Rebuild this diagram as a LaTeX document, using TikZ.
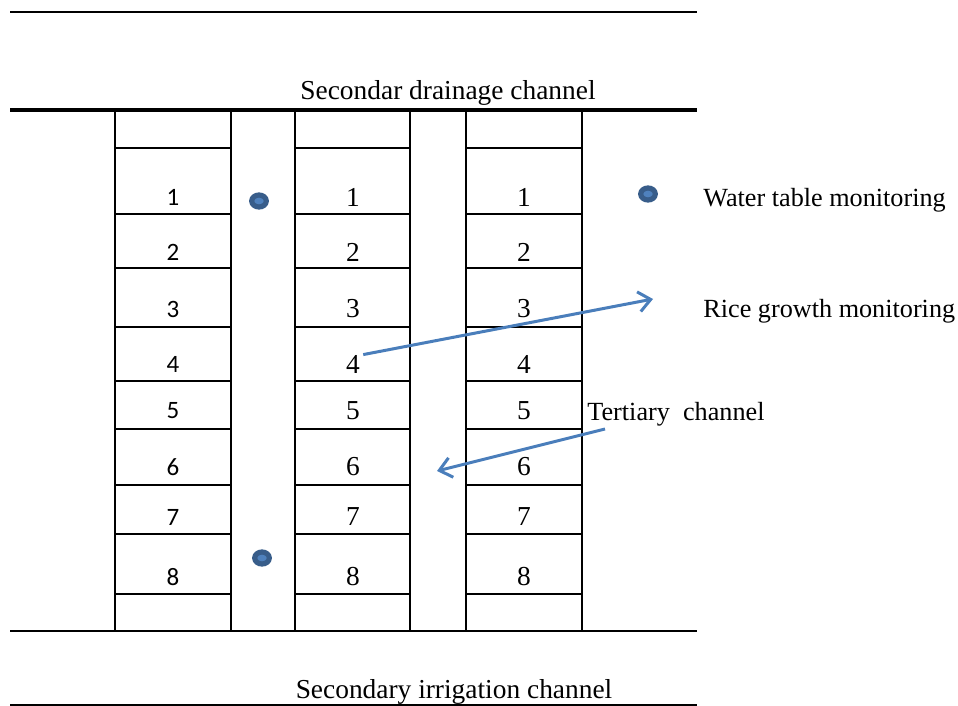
\documentclass[tikz,border=0pt]{standalone}
\usepackage{fontspec}
\setmainfont{Liberation Serif}
\newfontfamily\calibri{Carlito}
\usetikzlibrary{arrows.meta,shapes.geometric}
\definecolor{arrowblue}{HTML}{4A7EBB}
\definecolor{dotdark}{HTML}{385D8A}
\definecolor{dotlight}{HTML}{4F81BD}
\tikzset{
  channel/.style={line width=1pt},
  mainchannel/.style={line width=2pt},
  plotline/.style={line width=1pt},
  txt/.style={font=\fontsize{13.7}{16}\selectfont, inner sep=0pt},
  keytxt/.style={font=\fontsize{13.1}{16}\selectfont, inner sep=0pt},
  numserif/.style={font=\fontsize{13.7}{16}\selectfont, inner sep=0pt},
  numsans/.style={font=\calibri\fontsize{12.5}{14}\selectfont, inner sep=0pt},
  wtdot/.style={ellipse, draw=dotdark, fill=dotlight, line width=2.6pt,
    minimum width=7.3pt, minimum height=6pt, inner sep=0pt},
  pointer/.style={draw=arrowblue, line width=1.5pt,
    -{Straight Barb[length=6pt,width=10pt]}}
}
\begin{document}
\begin{tikzpicture}[x=0.5pt,y=-0.5pt]
\useasboundingbox (0,0) rectangle (958,706);
\draw[channel] (10,12) -- (697,12);
\draw[mainchannel] (10,110) -- (697,110);
\draw[channel] (10,631) -- (697,631);
\draw[channel] (10,705) -- (697,705);

\foreach \xl/\xr in {115/231, 295/410, 466/582} {
  \draw[plotline] (\xl,110) -- (\xl,631);
  \draw[plotline] (\xr,110) -- (\xr,631);
  \foreach \yy in {148,214,268,327,381,429,485,534,594}
    \draw[plotline] (\xl,\yy) -- (\xr,\yy);
}

\foreach \n/\yy in {1/197,2/252,3/309,4/364,5/411,6/467,7/517,8/577} {
  \node[numsans] (a\n) at (173,\yy) {\n};
  \node[numserif] (b\n) at (353,\yy) {\n};
  \node[numserif] (c\n) at (524,\yy) {\n};
}

\node[wtdot] (wtA) at (259,201) {};
\node[wtdot] (wtB) at (262,558) {};
\node[wtdot] (wtkey) at (648,194) {};

\node[txt, anchor=base] (drain) at (448,100) {Secondar drainage channel};
\node[txt, anchor=base] (irrig) at (454,698) {Secondary irrigation channel};
\node[keytxt, anchor=base west] (wtlabel) at (703,206) {Water table monitoring};
\node[keytxt, anchor=base west] (ricelabel) at (703,317) {Rice growth monitoring};
\node[keytxt, anchor=base west] (tertlabel) at (587,420) {Tertiary\ \ channel};

\coordinate (riceend) at (653,299);
\coordinate (tertstart) at (605,429);
\coordinate (tertend) at (437,471);
\draw[pointer] ([xshift=1.5pt]b4.north east) -- (riceend);
\draw[pointer] (tertstart) -- (tertend);
\end{tikzpicture}
\end{document}
